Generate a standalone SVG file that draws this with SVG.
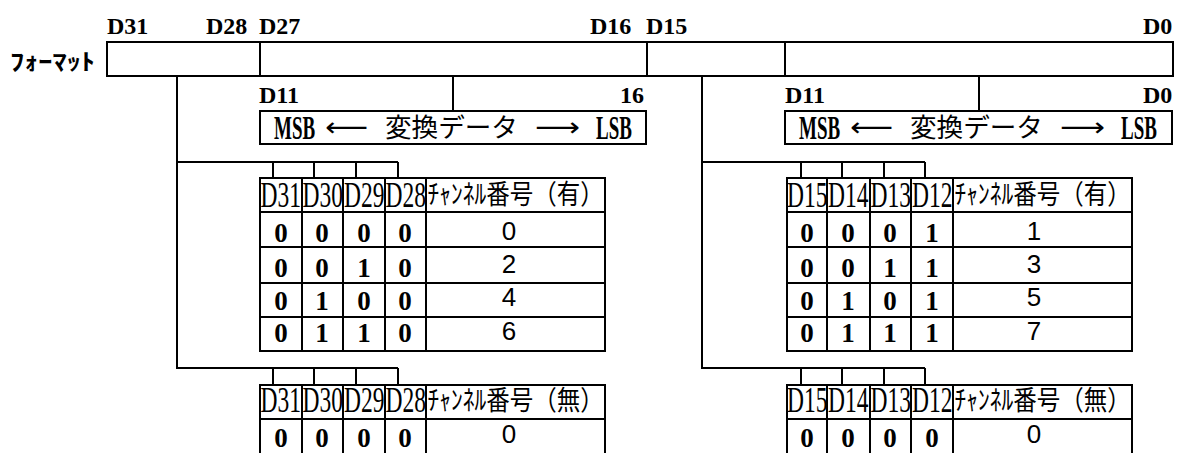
<svg xmlns="http://www.w3.org/2000/svg" width="1183" height="453" viewBox="0 0 1183 453">
<style>
.ln{stroke:#000;stroke-width:2;fill:none}
.bx{stroke:#000;stroke-width:2;fill:#fff}
.lbl{font-family:"Liberation Serif",serif;font-weight:bold;font-size:24px;fill:#000}
.hd{font-family:"Liberation Serif",serif;font-size:23.5px;fill:#000}
.jph{font-family:"Noto Sans CJK JP",sans-serif;font-size:23.5px;fill:#000}
.jp{font-family:"Noto Sans CJK JP",sans-serif;font-size:26.6px;fill:#000}
.bit{font-family:"Liberation Serif",serif;font-weight:bold;font-size:27px;fill:#000;text-anchor:middle}
.val{font-family:"Liberation Sans",sans-serif;font-size:26px;fill:#000;text-anchor:middle}
.msb{font-family:"Liberation Serif",serif;font-weight:bold;font-size:19px;fill:#000}
.arw{font-family:"DejaVu Sans",sans-serif;font-size:26px;fill:#000}
.fmt{font-family:"Noto Sans CJK JP",sans-serif;font-weight:bold;font-size:23px;fill:#000}
</style>
<rect width="1183" height="453" fill="#fff"/>

<g id="format-bar">
<text class="lbl" x="107" y="34">D31</text>
<text class="lbl" x="206" y="34">D28</text>
<text class="lbl" x="259" y="34">D27</text>
<text class="lbl" x="590" y="34">D16</text>
<text class="lbl" x="646" y="34">D15</text>
<text class="lbl" x="1143" y="34">D0</text>
<text class="fmt" x="10" y="70" textLength="85" lengthAdjust="spacingAndGlyphs">ﾌｫｰﾏｯﾄ</text>
<rect class="bx" x="107" y="42" width="1066" height="34"/>
<path class="ln" d="M260 42V76M647 42V76M785 42V76"/>
</g>

<g id="connectors">
<path class="ln" d="M453 76V111M979 76V111"/>
<path class="ln" d="M177 76V368H398M177 162H398M273 162V178M314 162V178M356 162V178M398 162V178M273 368V385M314 368V385M356 368V385M398 368V385"/>
<path class="ln" d="M702 76V368H925M702 162H925M801 162V178M842 162V178M884 162V178M925 162V178M801 368V385M842 368V385M884 368V385M925 368V385"/>
</g>

<g id="data-left">
<text class="lbl" x="259" y="103">D11</text>
<text class="lbl" x="620" y="103">16</text>
<rect class="bx" x="260" y="111" width="386" height="33"/>
<text class="msb" transform="translate(274 139) scale(1 1.75)">MSB</text>
<text class="arw" x="325" y="136" textLength="43" lengthAdjust="spacingAndGlyphs">⟵</text>
<text class="jp" x="385" y="137">変換データ</text>
<text class="arw" x="535" y="136" textLength="45" lengthAdjust="spacingAndGlyphs">⟶</text>
<text class="msb" transform="translate(596 139) scale(1 1.75)">LSB</text>
</g>

<g id="data-right">
<text class="lbl" x="785" y="103">D11</text>
<text class="lbl" x="1143" y="103">D0</text>
<rect class="bx" x="785" y="111" width="387" height="33"/>
<text class="msb" transform="translate(799 139) scale(1 1.75)">MSB</text>
<text class="arw" x="850" y="136" textLength="43" lengthAdjust="spacingAndGlyphs">⟵</text>
<text class="jp" x="910" y="137">変換データ</text>
<text class="arw" x="1060" y="136" textLength="45" lengthAdjust="spacingAndGlyphs">⟶</text>
<text class="msb" transform="translate(1121 139) scale(1 1.75)">LSB</text>
</g>

<g id="table-left-with">
<rect class="ln" x="260" y="178" width="345" height="173"/>
<path class="ln" d="M260 212H605M260 247H605M260 283H605M260 317H605M302 178V351M343 178V351M385 178V351M426 178V351"/>
<text class="hd" transform="translate(260.5 207) scale(1 1.55)">D31</text>
<text class="hd" transform="translate(302.5 207) scale(1 1.55)">D30</text>
<text class="hd" transform="translate(344 207) scale(1 1.55)">D29</text>
<text class="hd" transform="translate(385.5 207) scale(1 1.55)">D28</text>
<text class="jph" transform="translate(427.5 204) scale(1 1.15)">ﾁｬﾝﾈﾙ番号（有）</text>
<text class="bit" x="281" y="242">0</text><text class="bit" x="322" y="242">0</text><text class="bit" x="364" y="242">0</text><text class="bit" x="405" y="242">0</text><text class="val" x="509" y="240">0</text>
<text class="bit" x="281" y="277">0</text><text class="bit" x="322" y="277">0</text><text class="bit" x="364" y="277">1</text><text class="bit" x="405" y="277">0</text><text class="val" x="509" y="273">2</text>
<text class="bit" x="281" y="310">0</text><text class="bit" x="322" y="310">1</text><text class="bit" x="364" y="310">0</text><text class="bit" x="405" y="310">0</text><text class="val" x="509" y="306">4</text>
<text class="bit" x="281" y="342">0</text><text class="bit" x="322" y="342">1</text><text class="bit" x="364" y="342">1</text><text class="bit" x="405" y="342">0</text><text class="val" x="509" y="340">6</text>
</g>

<g id="table-right-with">
<rect class="ln" x="787" y="178" width="345" height="173"/>
<path class="ln" d="M787 212H1132M787 247H1132M787 283H1132M787 317H1132M827 178V351M870 178V351M911 178V351M953 178V351"/>
<text class="hd" transform="translate(787 207) scale(1 1.55)">D15</text>
<text class="hd" transform="translate(828 207) scale(1 1.55)">D14</text>
<text class="hd" transform="translate(870.5 207) scale(1 1.55)">D13</text>
<text class="hd" transform="translate(912 207) scale(1 1.55)">D12</text>
<text class="jph" transform="translate(954.5 204) scale(1 1.15)">ﾁｬﾝﾈﾙ番号（有）</text>
<text class="bit" x="807" y="242">0</text><text class="bit" x="848" y="242">0</text><text class="bit" x="890" y="242">0</text><text class="bit" x="932" y="242">1</text><text class="val" x="1034" y="240">1</text>
<text class="bit" x="807" y="277">0</text><text class="bit" x="848" y="277">0</text><text class="bit" x="890" y="277">1</text><text class="bit" x="932" y="277">1</text><text class="val" x="1034" y="273">3</text>
<text class="bit" x="807" y="310">0</text><text class="bit" x="848" y="310">1</text><text class="bit" x="890" y="310">0</text><text class="bit" x="932" y="310">1</text><text class="val" x="1034" y="306">5</text>
<text class="bit" x="807" y="342">0</text><text class="bit" x="848" y="342">1</text><text class="bit" x="890" y="342">1</text><text class="bit" x="932" y="342">1</text><text class="val" x="1034" y="340">7</text>
</g>

<g id="table-left-without">
<rect class="ln" x="260" y="385" width="345" height="72"/>
<path class="ln" d="M260 419H605M302 385V457M343 385V457M385 385V457M426 385V457"/>
<text class="hd" transform="translate(260.5 412) scale(1 1.55)">D31</text>
<text class="hd" transform="translate(302.5 412) scale(1 1.55)">D30</text>
<text class="hd" transform="translate(344 412) scale(1 1.55)">D29</text>
<text class="hd" transform="translate(385.5 412) scale(1 1.55)">D28</text>
<text class="jph" transform="translate(427.5 410) scale(1 1.15)">ﾁｬﾝﾈﾙ番号（無）</text>
<text class="bit" x="281" y="447">0</text><text class="bit" x="322" y="447">0</text><text class="bit" x="364" y="447">0</text><text class="bit" x="405" y="447">0</text><text class="val" x="509" y="443">0</text>
</g>

<g id="table-right-without">
<rect class="ln" x="787" y="385" width="345" height="72"/>
<path class="ln" d="M787 419H1132M827 385V457M870 385V457M911 385V457M953 385V457"/>
<text class="hd" transform="translate(787 412) scale(1 1.55)">D15</text>
<text class="hd" transform="translate(828 412) scale(1 1.55)">D14</text>
<text class="hd" transform="translate(870.5 412) scale(1 1.55)">D13</text>
<text class="hd" transform="translate(912 412) scale(1 1.55)">D12</text>
<text class="jph" transform="translate(954.5 410) scale(1 1.15)">ﾁｬﾝﾈﾙ番号（無）</text>
<text class="bit" x="807" y="447">0</text><text class="bit" x="848" y="447">0</text><text class="bit" x="890" y="447">0</text><text class="bit" x="932" y="447">0</text><text class="val" x="1034" y="443">0</text>
</g>
</svg>
